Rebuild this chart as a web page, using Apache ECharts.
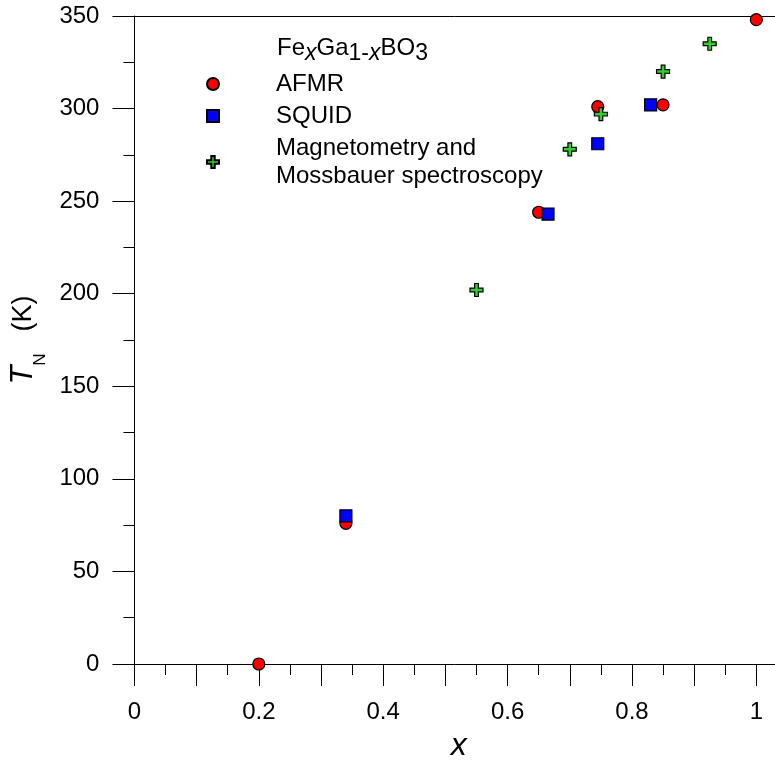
<!DOCTYPE html>
<html>
<head>
<meta charset="utf-8">
<script src="https://cdn.jsdelivr.net/npm/echarts@6/dist/echarts.min.js"></script>
<style>
html,body{margin:0;padding:0;background:#fff;}
#chart{width:775px;height:767px;}
</style>
</head>
<body>
<div id="chart"></div>
<script>
// ---- data ----
const afmrX = [0.2, 0.34, 0.65, 0.745, 0.85, 1.0];
const afmrT = [0, 76, 244, 301, 302, 348];
const squidX = [0.34, 0.665, 0.745, 0.83];
const squidT = [80, 243, 281, 302];
const magX = [0.55, 0.70, 0.75, 0.85, 0.925];
const magT = [202, 278, 297, 320, 335];

const seriesNames = ['AFMR', 'SQUID', 'Magnetometry and\nMossbauer spectroscopy'];
const xLabelValues = [0, 0.2, 0.4, 0.6, 0.8, 1.0];
const xTickLabels = ['0', '0.2', '0.4', '0.6', '0.8', '1'];
const xMajorTicks = [0, 0.1, 0.2, 0.3, 0.4, 0.5, 0.6, 0.7, 0.8, 0.9, 1.0];
const xMinorTicks = [0.05, 0.15, 0.25, 0.35, 0.45, 0.55, 0.65, 0.75, 0.85, 0.95];
const yTickLabels = ['0', '50', '100', '150', '200', '250', '300', '350'];

const FONT = '"Liberation Sans", Arial, sans-serif';
const pair = (xs, ys) => xs.map((x, i) => [x, ys[i]]);
const plusPath = 'path://M5,0H9V5H14V9H9V14H5V9H0V5H5Z';
const black = {color: '#000', width: 1};

const chart = echarts.init(document.getElementById('chart'), null, {renderer: 'canvas'});
const option = {
  animation: false,
  backgroundColor: '#fff',
  textStyle: {fontFamily: FONT},
  title: {
    left: 277, top: 32,
    padding: 0,
    text: '{m|Fe}{s|x}{m|Ga}{d|1-}{s|x}{m|BO}{d|3}',
    textStyle: {
      fontFamily: FONT, fontWeight: 'normal',
      rich: {
        m: {fontSize: 24, color: '#000', fontFamily: FONT, fontWeight: 'normal'},
        s: {fontSize: 23, color: '#000', fontStyle: 'italic', fontWeight: 'normal', fontFamily: FONT, padding: [10, 0, 0, 0]},
        d: {fontSize: 23, color: '#000', fontWeight: 'normal', fontFamily: FONT, padding: [10, 0, 0, 0]}
      }
    }
  },
  legend: {
    orient: 'vertical',
    left: 206, top: 70,
    padding: 0,
    itemWidth: 12, itemHeight: 12,
    itemGap: 4,
    selectedMode: false,
    data: seriesNames,
    textStyle: {fontSize: 24, color: '#000', fontFamily: FONT, lineHeight: 28, padding: [0, 0, 0, 52]}
  },
  grid: {left: 133, right: 0, top: 16, bottom: 97},
  xAxis: [
    {
      type: 'value', min: 0, max: 1.03, position: 'bottom',
      axisLine: {show: true, onZero: false, lineStyle: black},
      axisTick: {show: true, length: 22, customValues: xMajorTicks, lineStyle: black},
      axisLabel: {
        customValues: xLabelValues, margin: 36, fontSize: 24, color: '#000', fontFamily: FONT,
        formatter: v => xTickLabels[xLabelValues.indexOf(v)]
      },
      splitLine: {show: false},
      name: 'x', nameLocation: 'middle', nameGap: 66,
      nameTextStyle: {fontSize: 32, fontStyle: 'italic', color: '#000', fontFamily: FONT, padding: [0, 0, 0, 8]}
    },
    {
      type: 'value', min: 0, max: 1.03, position: 'bottom',
      axisLine: {show: false},
      axisTick: {show: true, length: 11, customValues: xMinorTicks, lineStyle: black},
      axisLabel: {show: false},
      splitLine: {show: false}
    },
    {
      type: 'value', min: 0, max: 1.03, position: 'top',
      axisLine: {show: true, onZero: false, lineStyle: black},
      axisTick: {show: false},
      axisLabel: {show: false},
      splitLine: {show: false}
    }
  ],
  yAxis: {
    type: 'value', min: 0, max: 350, interval: 50,
    axisLine: {show: true, onZero: false, lineStyle: black},
    axisTick: {show: true, length: 22, lineStyle: black},
    minorTick: {show: true, splitNumber: 2, length: 11, lineStyle: black},
    axisLabel: {
      margin: 35, fontSize: 24, color: '#000', fontFamily: FONT,
      formatter: v => yTickLabels[Math.round(v / 50)]
    },
    splitLine: {show: false},
    minorSplitLine: {show: false},
    name: '{t|T}{n|N}{k|(K)}',
    nameLocation: 'middle',
    nameGap: 83,
    nameTextStyle: {
      rich: {
        t: {fontSize: 31, fontStyle: 'italic', color: '#000', fontFamily: FONT},
        n: {fontSize: 17, color: '#000', fontFamily: FONT, padding: [33, 0, 0, 0]},
        k: {fontSize: 27, color: '#000', fontFamily: FONT, padding: [0, 0, 0, 22]}
      }
    }
  },
  series: [
    {
      name: seriesNames[0], type: 'scatter', xAxisIndex: 0,
      data: pair(afmrX, afmrT),
      symbol: 'circle', symbolSize: 12,
      itemStyle: {color: '#ff0000', borderColor: '#000', borderWidth: 1.2, opacity: 1}
    },
    {
      name: seriesNames[1], type: 'scatter', xAxisIndex: 0,
      data: pair(squidX, squidT),
      symbol: 'rect', symbolSize: 12,
      itemStyle: {color: '#0000ff', borderColor: '#000', borderWidth: 1.2, opacity: 1}
    },
    {
      name: seriesNames[2], type: 'scatter', xAxisIndex: 0,
      data: pair(magX, magT),
      symbol: plusPath, symbolSize: 13,
      itemStyle: {color: '#33cc33', borderColor: '#000', borderWidth: 1.2, opacity: 1}
    }
  ]
};
chart.setOption(option);
</script>
</body>
</html>
